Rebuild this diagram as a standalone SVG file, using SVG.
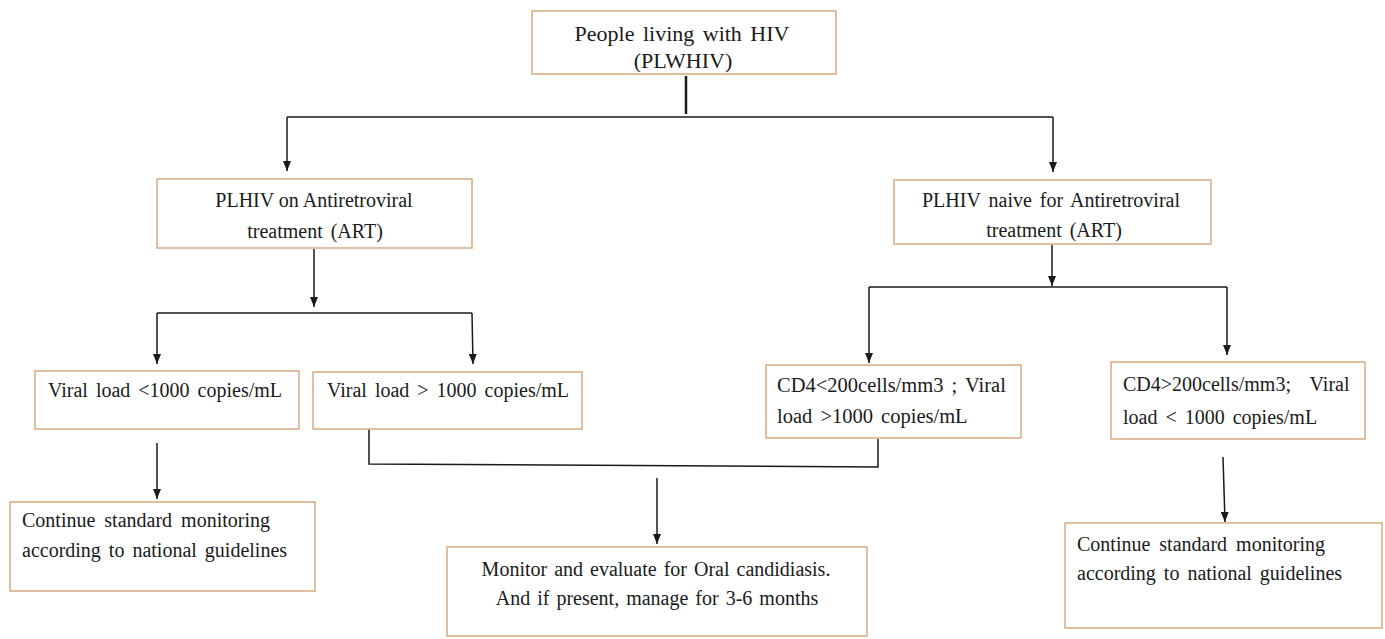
<svg xmlns="http://www.w3.org/2000/svg" width="1385" height="639" viewBox="0 0 1385 639">
<style>
.box{fill:#ffffff;stroke:#d8a97f;stroke-width:1.5}
.t{font-family:"Liberation Serif","Times New Roman",serif;font-size:20px;fill:#1a1a1a}
.c{text-anchor:middle}
.ln{stroke:#1a1a1a;stroke-width:1.5;fill:none}
.ar{stroke:#1a1a1a;stroke-width:1.5;fill:none;marker-end:url(#ah)}
</style>
<defs>
<marker id="ah" viewBox="0 0 10 8" refX="10" refY="4" markerWidth="10" markerHeight="8" markerUnits="userSpaceOnUse" orient="auto">
<path d="M0,0 L10,4 L0,8 z" fill="#1a1a1a"/>
</marker>
</defs>
<rect width="1385" height="639" fill="#ffffff"/>
<g id="connectors">
<line class="ln" x1="686" y1="76" x2="686" y2="114" style="stroke-width:2.5"/>
<line class="ln" x1="287" y1="117" x2="1053" y2="117"/>
<line class="ar" x1="287" y1="117" x2="287" y2="171"/>
<line class="ar" x1="1053" y1="117" x2="1053" y2="172"/>
<line class="ar" x1="314" y1="249" x2="314" y2="307"/>
<line class="ln" x1="157" y1="313" x2="472" y2="313"/>
<line class="ar" x1="157" y1="313" x2="157" y2="364"/>
<line class="ar" x1="472" y1="313" x2="473" y2="364"/>
<line class="ar" x1="1052" y1="245" x2="1052" y2="286"/>
<line class="ln" x1="869" y1="287" x2="1227" y2="287"/>
<line class="ar" x1="869" y1="287" x2="869" y2="363"/>
<line class="ar" x1="1227" y1="287" x2="1227" y2="355"/>
<line class="ar" x1="157" y1="443" x2="157" y2="499"/>
<polyline class="ln" points="369,429 369,464 878,467 878,439"/>
<line class="ar" x1="657" y1="478" x2="657" y2="544"/>
<line class="ar" x1="1223" y1="457" x2="1225" y2="522"/>
</g>
<g id="n-plwhiv">
<rect class="box" x="532" y="11" width="304" height="63"/>
<text class="t c" x="682" y="41" style="font-size:22px;word-spacing:3px">People living with HIV</text>
<text class="t c" x="683" y="68" style="font-size:22px">(PLWHIV)</text>
</g>
<g id="n-art">
<rect class="box" x="157" y="179" width="315" height="69"/>
<text class="t c" x="314" y="207">PLHIV on Antiretroviral</text>
<text class="t c" x="315" y="238" style="word-spacing:3px">treatment (ART)</text>
</g>
<g id="n-naive">
<rect class="box" x="894" y="180" width="317" height="64"/>
<text class="t c" x="1051" y="207" style="word-spacing:3px">PLHIV naive for Antiretroviral</text>
<text class="t c" x="1054" y="237" style="word-spacing:3px">treatment (ART)</text>
</g>
<g id="n-vl-low">
<rect class="box" x="35" y="371" width="264" height="58"/>
<text class="t" x="48" y="397" style="word-spacing:3px">Viral load &lt;1000 copies/mL</text>
</g>
<g id="n-vl-high">
<rect class="box" x="313" y="372" width="269" height="57"/>
<text class="t" x="327" y="397" style="word-spacing:3px">Viral load &gt; 1000 copies/mL</text>
</g>
<g id="n-cd4-low">
<rect class="box" x="766" y="365" width="255" height="73"/>
<text class="t" x="777" y="392" style="font-size:20.5px;word-spacing:3px">CD4&lt;200cells/mm3  ; Viral</text>
<text class="t" x="777" y="423" style="font-size:20.5px;word-spacing:3px">load &gt;1000 copies/mL</text>
</g>
<g id="n-cd4-high">
<rect class="box" x="1111" y="362" width="254" height="77"/>
<text class="t" x="1123" y="391" style="word-spacing:14px">CD4&gt;200cells/mm3; Viral</text>
<text class="t" x="1123" y="424" style="word-spacing:3px">load &lt; 1000 copies/mL</text>
</g>
<g id="n-cont-left">
<rect class="box" x="10" y="502" width="305" height="89"/>
<text class="t" x="22" y="527" style="word-spacing:4px">Continue standard monitoring</text>
<text class="t" x="22" y="557" style="word-spacing:3px">according to national guidelines</text>
</g>
<g id="n-monitor">
<rect class="box" x="447" y="547" width="420" height="89"/>
<text class="t c" x="656" y="576" style="word-spacing:2px">Monitor and evaluate for Oral candidiasis.</text>
<text class="t c" x="657" y="605" style="word-spacing:2px">And if present, manage for 3-6 months</text>
</g>
<g id="n-cont-right">
<rect class="box" x="1065" y="523" width="317" height="105"/>
<text class="t" x="1077" y="551" style="word-spacing:4px">Continue standard monitoring</text>
<text class="t" x="1077" y="580" style="word-spacing:3px">according to national guidelines</text>
</g>
</svg>
